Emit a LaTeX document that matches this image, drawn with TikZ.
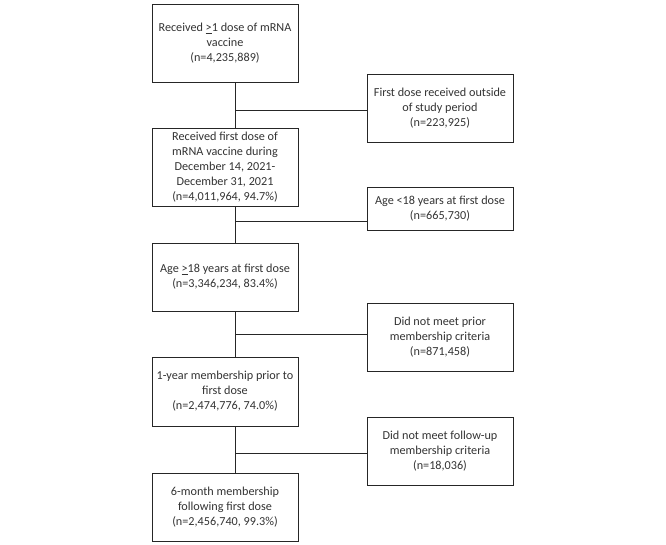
\documentclass[tikz,border=0pt]{standalone}
\usepackage{fontspec}
\setmainfont{Carlito}
\begin{document}
\begin{tikzpicture}[x=1pt,y=-1pt,
  box/.style={draw=black!85, line width=0.8pt, text=black!80, align=center, minimum width=146pt, inner sep=2pt, font=\fontsize{12.2}{15}\selectfont},
  conn/.style={draw=black!85, line width=0.8pt}]
\useasboundingbox (0,0) rectangle (666,544);
\coordinate (trunk) at (235,0);
\node[box, minimum height=78pt] (b1) at (225,43) {Received \underline{>}1 dose of mRNA\\vaccine\\(n=4,235,889)};
\node[box, minimum height=78pt] (b2) at (225,167) {Received first dose of\\mRNA vaccine during\\December 14, 2021-\\December 31, 2021\\(n=4,011,964, 94.7\%)};
\node[box, minimum height=68pt] (b3) at (225,277) {Age \underline{>}18 years at first dose\\(n=3,346,234, 83.4\%)};
\node[box, minimum height=69pt] (b4) at (225,391.5) {1-year membership prior to\\first dose\\(n=2,474,776, 74.0\%)};
\node[box, minimum height=68pt] (b5) at (225,507) {6-month membership\\following first dose\\(n=2,456,740, 99.3\%)};
\node[box, minimum height=68pt] (s1) at (440,108) {First dose received outside\\of study period\\(n=223,925)};
\node[box, minimum height=43pt] (s2) at (440,208.5) {Age <18 years at first dose\\(n=665,730)};
\node[box, minimum height=68pt] (s3) at (440,337) {Did not meet prior\\membership criteria\\(n=871,458)};
\node[box, minimum height=68pt] (s4) at (440,451) {Did not meet follow-up\\membership criteria\\(n=18,036)};
\draw[conn] (b1.south -| trunk) -- (b2.north -| trunk);
\draw[conn] (b2.south -| trunk) -- (b3.north -| trunk);
\draw[conn] (b3.south -| trunk) -- (b4.north -| trunk);
\draw[conn] (b4.south -| trunk) -- (b5.north -| trunk);
\draw[conn] (s1.west |- 0,110) -- (trunk |- 0,110);
\draw[conn] (s2.west |- 0,221) -- (trunk |- 0,221);
\draw[conn] (s3.west |- 0,334) -- (trunk |- 0,334);
\draw[conn] (s4.west |- 0,453) -- (trunk |- 0,453);
\end{tikzpicture}
\end{document}
